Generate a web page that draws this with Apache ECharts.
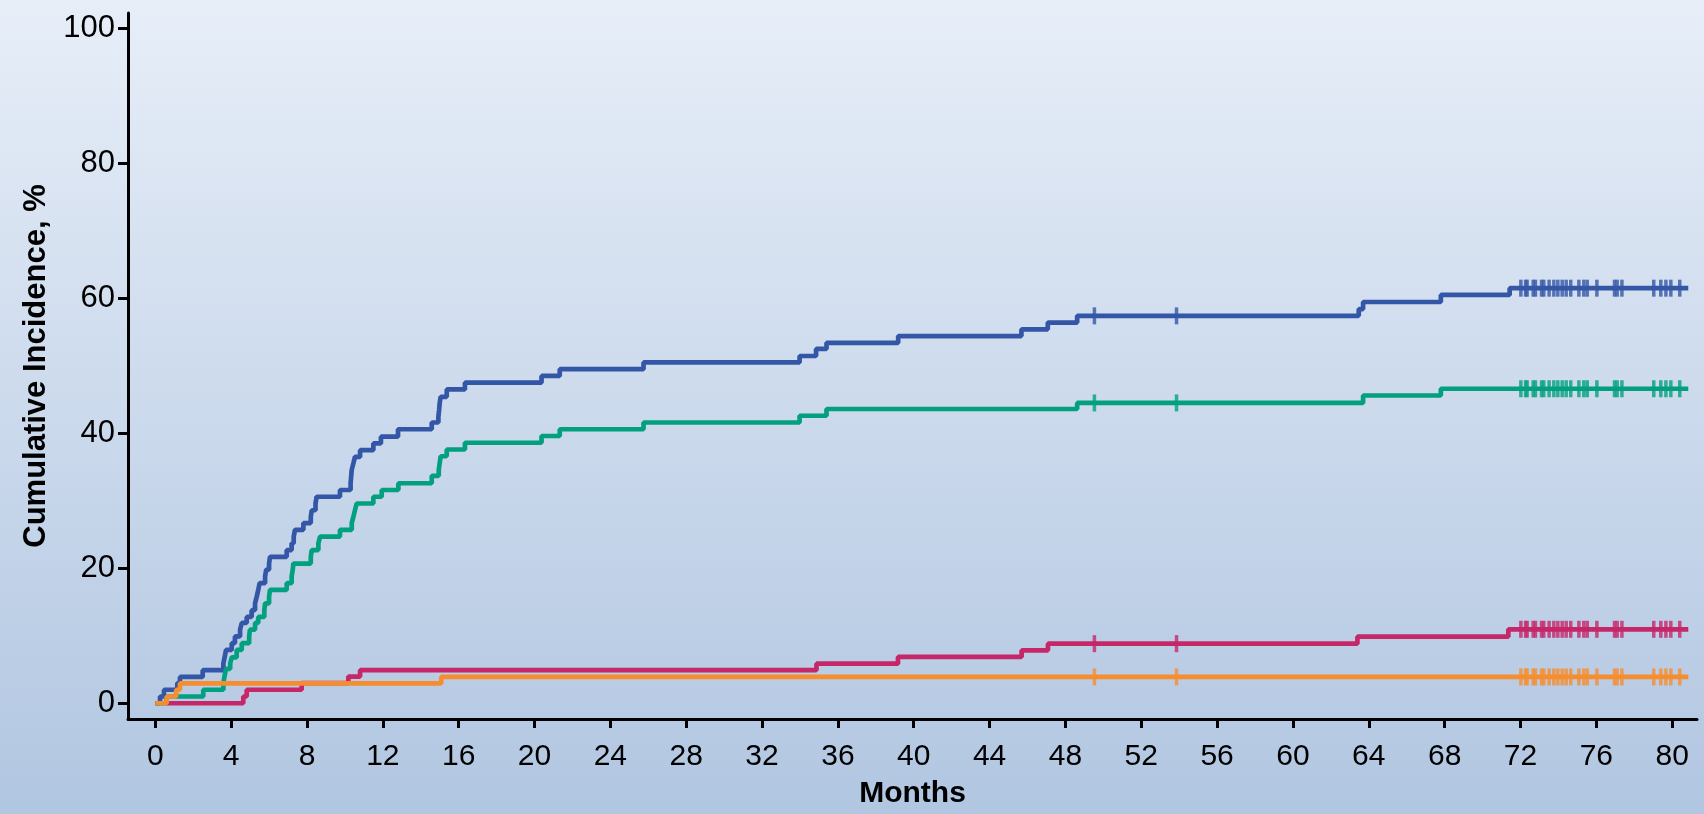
<!DOCTYPE html>
<html>
<head>
<meta charset="utf-8">
<script src="https://cdn.jsdelivr.net/npm/echarts@6/dist/echarts.min.js"></script>
<style>
  html, body { margin: 0; padding: 0; }
  #chart { width: 1704px; height: 814px; }
</style>
</head>
<body>
<div id="chart"></div>
<script>
// Axis tick values
const xTicks = [0, 4, 8, 12, 16, 20, 24, 28, 32, 36, 40, 44, 48, 52, 56, 60, 64, 68, 72, 76, 80];
const yTicks = [0, 20, 40, 60, 80, 100];

// Cumulative incidence curves: [month, percent] at each event time
const totalCurve = [
  [0, 0], [0.25, 1], [0.46, 2], [1.16, 3], [1.3, 3.9], [2.5, 4.9], [3.59, 5.9], [3.66, 6.9],
  [3.73, 7.9], [4.03, 8.9], [4.2, 9.9], [4.47, 10.9], [4.56, 11.9], [4.82, 12.8], [5.08, 13.8],
  [5.26, 14.8], [5.35, 15.8], [5.43, 16.8], [5.5, 17.8], [5.79, 18.8], [5.85, 19.8], [6.0, 20.7],
  [6.05, 21.7], [6.93, 22.7], [7.19, 23.7], [7.3, 24.7], [7.37, 25.7], [7.81, 26.7], [8.2, 27.6],
  [8.25, 28.6], [8.45, 29.6], [8.51, 30.6], [9.74, 31.6], [10.3, 32.6], [10.33, 33.6], [10.36, 34.6],
  [10.45, 35.6], [10.53, 36.5], [10.8, 37.5], [11.5, 38.5], [11.9, 39.5], [12.8, 40.6], [14.58, 41.6],
  [14.93, 42.5], [14.97, 43.5], [15.0, 44.5], [15.05, 45.4], [15.37, 46.5], [16.33, 47.5],
  [20.37, 48.5], [21.33, 49.5], [25.75, 50.5], [33.98, 51.45], [34.85, 52.5], [35.4, 53.4],
  [39.18, 54.4], [45.68, 55.4], [47.07, 56.4], [48.62, 57.4], [63.47, 58.4], [63.7, 59.45],
  [67.8, 60.5], [71.43, 61.5], [80.85, 61.5]
];
const cause1Curve = [
  [0, 0], [0.6, 1], [2.53, 2], [3.59, 3], [3.65, 4], [3.73, 5.1], [3.95, 5.9], [4.03, 6.8],
  [4.29, 7.9], [4.56, 8.9], [4.95, 9.9], [4.99, 10.9], [5.26, 11.9], [5.43, 12.8], [5.75, 13.8],
  [5.79, 14.8], [6.0, 15.8], [6.05, 16.8], [6.93, 17.8], [7.19, 18.8], [7.25, 19.8], [7.28, 20.7],
  [8.2, 21.7], [8.25, 22.7], [8.6, 23.7], [8.69, 24.7], [9.74, 25.7], [10.36, 26.7], [10.45, 27.7],
  [10.53, 28.6], [10.62, 29.6], [11.5, 30.6], [11.94, 31.6], [12.82, 32.6], [14.58, 33.7],
  [14.95, 34.6], [15.0, 35.6], [15.05, 36.6], [15.37, 37.6], [16.33, 38.6], [20.37, 39.6],
  [21.33, 40.6], [25.75, 41.6], [33.98, 42.6], [35.4, 43.6], [48.62, 44.5], [63.7, 45.6],
  [67.8, 46.6], [80.85, 46.6]
];
const cause2Curve = [
  [0.6, 0], [4.64, 1], [4.82, 2], [7.72, 3], [10.18, 3.95], [10.8, 4.9], [34.87, 5.87],
  [39.17, 6.86], [45.69, 7.85], [47.08, 8.83], [63.4, 9.87], [71.36, 10.96], [80.85, 10.96]
];
const cause3Curve = [
  [0, 0], [0.6, 1], [1.1, 2], [1.3, 2.96], [15.08, 3.9], [80.85, 3.9]
];

// Censoring times (months), shared by all curves
const censorTimes = [
  49.53, 53.86, 72.02, 72.27, 72.35, 72.67, 72.79, 73.11, 73.23, 73.51, 73.76, 73.97, 74.2,
  74.41, 74.65, 75.08, 75.34, 75.52, 76.03, 76.96, 77.1, 77.35, 79.03, 79.4, 79.67, 79.93, 80.4
];

const curveNames = ['Total', 'Cause 1', 'Cause 2', 'Cause 3'];
const curveColors = ['#3456a6', '#02a07e', '#c52769', '#f68d2e'];
const curves = [totalCurve, cause1Curve, cause2Curve, cause3Curve];

function valueAt(curve, t) {
  let v = curve[0][1];
  for (const [x, y] of curve) {
    if (x <= t) v = y; else break;
  }
  return v;
}

const series = [];
curves.forEach((curve, i) => {
  series.push({
    name: curveNames[i],
    type: 'line',
    step: 'end',
    data: curve,
    showSymbol: false,
    lineStyle: { color: curveColors[i], width: 4.7 },
    z: 2 + i,
    silent: true
  });
});
curves.forEach((curve, i) => {
  series.push({
    name: curveNames[i] + ' censored',
    type: 'scatter',
    data: censorTimes.map(t => [t, valueAt(curve, t)]),
    symbol: 'rect',
    symbolSize: [3.5, 17],
    itemStyle: { color: curveColors[i] },
    z: 2 + i,
    silent: true
  });
});

const chart = echarts.init(document.getElementById('chart'));
chart.setOption({
  animation: false,
  backgroundColor: new echarts.graphic.LinearGradient(0, 0, 0, 1, [
    { offset: 0, color: '#e7eef8' },
    { offset: 1, color: '#b1c6e1' }
  ]),
  grid: { left: 128, right: 7, top: 13, bottom: 95 },
  xAxis: {
    type: 'value',
    min: -1.44,
    max: 81.31,
    name: 'Months',
    nameLocation: 'middle',
    nameGap: 60,
    nameTextStyle: { fontFamily: 'Liberation Sans, Arial', fontWeight: 'bold', fontSize: 30, color: '#000' },
    axisLine: { onZero: false, lineStyle: { color: '#000', width: 3 } },
    axisTick: { show: true, length: 9, lineStyle: { color: '#000', width: 3 }, customValues: xTicks },
    axisLabel: { customValues: xTicks, margin: 23, fontFamily: 'Liberation Sans, Arial', fontSize: 30, color: '#000' },
    splitLine: { show: false }
  },
  yAxis: {
    type: 'value',
    min: -2.33,
    max: 102.27,
    name: 'Cumulative Incidence, %',
    nameLocation: 'middle',
    nameGap: 76,
    nameRotate: 90,
    nameTextStyle: { fontFamily: 'Liberation Sans, Arial', fontWeight: 'bold', fontSize: 31, color: '#000' },
    axisLine: { show: true, onZero: false, lineStyle: { color: '#000', width: 3 } },
    axisTick: { show: true, length: 10, lineStyle: { color: '#000', width: 3 }, customValues: yTicks },
    axisLabel: { customValues: yTicks, margin: 13, fontFamily: 'Liberation Sans, Arial', fontSize: 31, color: '#000' },
    splitLine: { show: false }
  },
  series: series
});
</script>
</body>
</html>
